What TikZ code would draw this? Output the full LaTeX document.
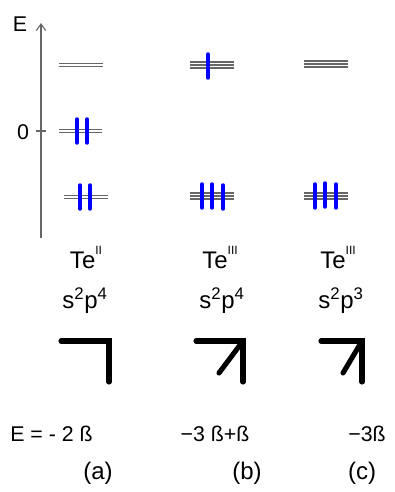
\documentclass[tikz,border=0pt]{standalone}
\usepackage{fontspec}
\setmainfont{Liberation Sans}
\usetikzlibrary{arrows.meta}

\begin{document}
\begin{tikzpicture}[x=0.75pt,y=-0.75pt,
  level/.style={line width=1pt, black!60},
  spin/.style={line width=2.6pt, blue, line cap=round},
  bond/.style={line width=3.8pt, line cap=round, line join=miter},
  lbl/.style={inner sep=0pt, font=\fontsize{16}{19}\selectfont},
  big/.style={inner sep=0pt, font=\fontsize{18}{21}\selectfont}]
\useasboundingbox (0,0) rectangle (395,492);
\draw[line width=0.8pt, black!60, -{Straight Barb[length=5pt,width=7pt]}] (41,238) -- (41,23);
\draw[line width=0.8pt, black!60] (36,131) -- (46,131);
\node[lbl] (axisE) at (20,24) {E};
\node[lbl] (zero) at (23,132) {0};
\draw[level] (59,63.5) -- (103,63.5);
\draw[level] (59,66.5) -- (103,66.5);
\draw[level] (59,129.5) -- (102,129.5);
\draw[level] (59,132.5) -- (102,132.5);
\draw[level] (64,195.5) -- (108,195.5);
\draw[level] (64,198.5) -- (108,198.5);
\draw[spin] (77,119) -- (77,143);
\draw[spin] (87,119) -- (87,143);
\draw[spin] (80,185) -- (80,209);
\draw[spin] (90,185) -- (90,209);
\draw[level] (190,62) -- (234,62);
\draw[level] (190,65) -- (234,65);
\draw[level] (190,68) -- (234,68);
\draw[level] (190,193) -- (234,193);
\draw[level] (190,196) -- (234,196);
\draw[level] (190,199) -- (234,199);
\draw[spin] (208,54) -- (208,78);
\draw[spin] (202,184) -- (202,208);
\draw[spin] (212,184) -- (212,208);
\draw[spin] (223,185) -- (223,209);
\draw[level] (304,61) -- (348,61);
\draw[level] (304,64) -- (348,64);
\draw[level] (304,67) -- (348,67);
\draw[level] (304,193) -- (348,193);
\draw[level] (304,196) -- (348,196);
\draw[level] (304,199) -- (348,199);
\draw[spin] (315,184) -- (315,208);
\draw[spin] (325,183) -- (325,207);
\draw[spin] (336,184) -- (336,208);
\node[big, anchor=base] (teA) at (86,268) {Te\raisebox{1.1ex}{\fontsize{9}{9}\selectfont II}};
\node[big, anchor=base] (confA) at (85,308) {s\textsuperscript{2}p\textsuperscript{4}};
\node[big, anchor=base] (teB) at (220,268) {Te\raisebox{1.1ex}{\fontsize{9}{9}\selectfont III}};
\node[big, anchor=base] (confB) at (222,308) {s\textsuperscript{2}p\textsuperscript{4}};
\node[big, anchor=base] (teC) at (338,268) {Te\raisebox{1.1ex}{\fontsize{9}{9}\selectfont III}};
\node[big, anchor=base] (confC) at (341,308) {s\textsuperscript{2}p\textsuperscript{3}};
\draw[bond] (61,341) -- (109,341) -- (109,382);
\draw[bond] (196,341) -- (243,341) -- (243,382);
\draw[bond] (243,341) -- (219,373);
\draw[bond] (321,341) -- (362,341) -- (362,382);
\draw[bond] (362,341) -- (343,373);
\node[lbl, anchor=west] (enA) at (10,434) {E = - 2 ß};
\node[lbl] (enB) at (215,434) {\textminus3 ß+ß};
\node[lbl] (enC) at (367,434) {\textminus3ß};
\node[big] (capA) at (98,473) {(a)};
\node[big] (capB) at (247,473) {(b)};
\node[big] (capC) at (362,473) {(c)};
\end{tikzpicture}
\end{document}
